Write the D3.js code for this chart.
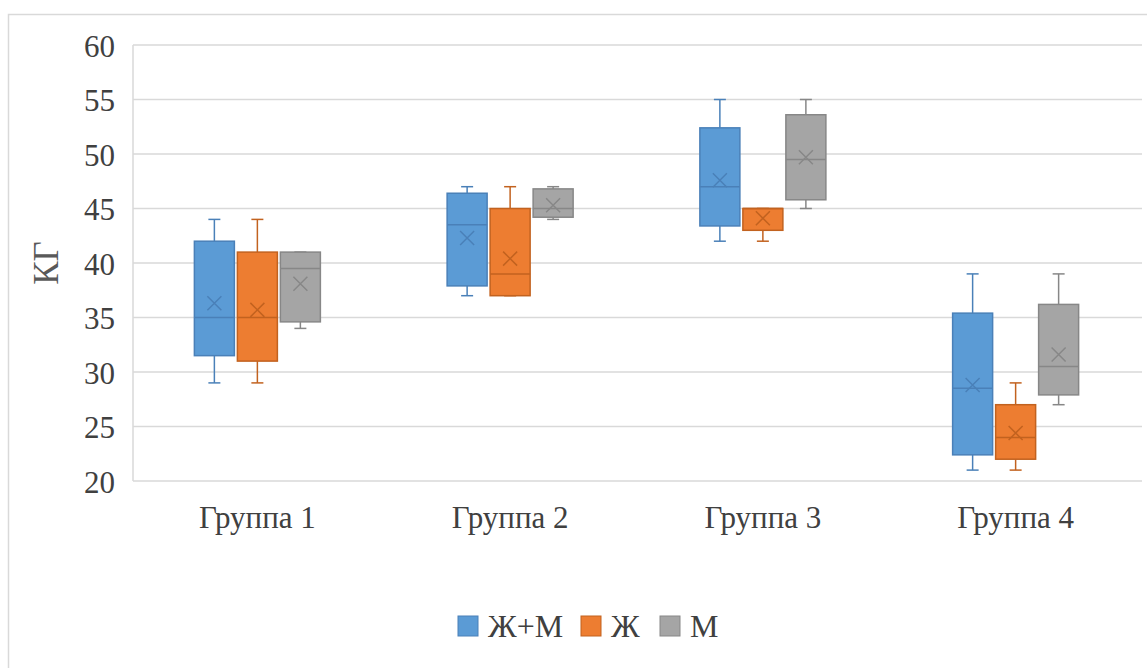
<!DOCTYPE html>
<html>
<head>
<meta charset="utf-8">
<script src="https://cdn.jsdelivr.net/npm/d3@7"></script>
</head>
<body style="margin:0">
<svg id="chart" width="1147" height="668"></svg>
<script>
// categories and series
var categories = ["Группа 1", "Группа 2", "Группа 3", "Группа 4"];
var seriesNames = ["Ж+М", "Ж", "М"];
var yTicks = [20, 25, 30, 35, 40, 45, 50, 55, 60];

// per group: [Ж+М, Ж, М]
var whiskerLow = [[29, 29, 34], [37, 37, 44], [42, 42, 45], [21, 21, 27]];
var quartile1 = [[31.5, 31, 34.6], [37.9, 37, 44.2], [43.4, 43, 45.8], [22.4, 22, 27.9]];
var medians = [[35, 35, 39.5], [43.5, 39, 45], [47, 45, 49.5], [28.5, 24, 30.5]];
var quartile3 = [[42, 41, 41], [46.4, 45, 46.8], [52.4, 45, 53.6], [35.4, 27, 36.2]];
var whiskerHigh = [[44, 44, 41], [47, 47, 47], [55, 45, 55], [39, 29, 39]];
var means = [[36.3, 35.7, 38.1], [42.3, 40.4, 45.3], [47.6, 44.1, 49.7], [28.8, 24.4, 31.6]];

var fills = ["#5B9BD5", "#ED7D31", "#A5A5A5"];
var strokes = ["#4A80B8", "#C2621F", "#878787"];
var serif = "Liberation Serif";

var svg = d3.select("#chart");

// outer frame
svg.append("rect")
  .attr("x", 8.5).attr("y", 14.5)
  .attr("width", 1160).attr("height", 700)
  .attr("fill", "#fff").attr("stroke", "#d9d9d9").attr("stroke-width", 1.5);

var plotLeft = 131, plotRight = 1142, plotTop = 45, plotBottom = 481;

var x = d3.scaleBand().domain(categories).range([plotLeft, plotRight]);
var xs = d3.scalePoint().domain(seriesNames).range([-43, 43]);
var y = d3.scaleLinear().domain([20, 60]).range([plotBottom, plotTop]);
var boxW = 40;

// grid
svg.append("g").selectAll("line").data(yTicks).enter().append("line")
  .attr("x1", plotLeft + 2).attr("x2", plotRight)
  .attr("y1", function (d) { return y(d); })
  .attr("y2", function (d) { return y(d); })
  .attr("stroke", "#d9d9d9").attr("stroke-width", 1.5);
svg.append("line")
  .attr("x1", plotLeft + 2).attr("x2", plotLeft + 2)
  .attr("y1", plotTop).attr("y2", plotBottom)
  .attr("stroke", "#d9d9d9").attr("stroke-width", 1.5);

// y axis
var gy = svg.append("g")
  .attr("transform", "translate(" + plotLeft + ",0)")
  .call(d3.axisLeft(y).tickValues(yTicks).tickSize(0).tickPadding(16));
gy.attr("font-family", serif).attr("font-size", 31);
gy.select(".domain").remove();
gy.selectAll("text").attr("dy", "0.36em").attr("fill", "#404040");

// x axis
var gx = svg.append("g")
  .attr("transform", "translate(0," + plotBottom + ")")
  .call(d3.axisBottom(x).tickSize(0).tickPadding(25));
gx.attr("font-family", serif).attr("font-size", 31);
gx.select(".domain").remove();
gx.selectAll("text").attr("fill", "#404040");

// y title
svg.append("text")
  .attr("transform", "translate(58,263) rotate(-90)")
  .attr("text-anchor", "middle")
  .attr("font-family", serif)
  .attr("font-size", 35).attr("fill", "#595959")
  .text("КГ");

// boxes
var items = [];
categories.forEach(function (c, i) {
  seriesNames.forEach(function (s, j) {
    items.push({ cat: c, ser: s, j: j, lo: whiskerLow[i][j], q1: quartile1[i][j],
      med: medians[i][j], q3: quartile3[i][j], hi: whiskerHigh[i][j], mean: means[i][j] });
  });
});

var g = svg.append("g").selectAll("g").data(items).enter().append("g")
  .attr("transform", function (d) { return "translate(" + (x(d.cat) + x.bandwidth() / 2 + xs(d.ser)) + ",0)"; });

g.append("line").attr("x1", 0).attr("x2", 0)
  .attr("y1", function (d) { return y(d.hi); }).attr("y2", function (d) { return y(d.q3); })
  .attr("stroke", function (d) { return strokes[d.j]; }).attr("stroke-width", 1.5);
g.append("line").attr("x1", 0).attr("x2", 0)
  .attr("y1", function (d) { return y(d.q1); }).attr("y2", function (d) { return y(d.lo); })
  .attr("stroke", function (d) { return strokes[d.j]; }).attr("stroke-width", 1.5);
g.append("line").attr("x1", -6).attr("x2", 6)
  .attr("y1", function (d) { return y(d.hi); }).attr("y2", function (d) { return y(d.hi); })
  .attr("stroke", function (d) { return strokes[d.j]; }).attr("stroke-width", 1.5);
g.append("line").attr("x1", -6).attr("x2", 6)
  .attr("y1", function (d) { return y(d.lo); }).attr("y2", function (d) { return y(d.lo); })
  .attr("stroke", function (d) { return strokes[d.j]; }).attr("stroke-width", 1.5);

g.append("rect")
  .attr("x", -boxW / 2).attr("width", boxW)
  .attr("y", function (d) { return y(d.q3); })
  .attr("height", function (d) { return y(d.q1) - y(d.q3); })
  .attr("fill", function (d) { return fills[d.j]; })
  .attr("stroke", function (d) { return strokes[d.j]; }).attr("stroke-width", 1.5);

g.append("line").attr("x1", -boxW / 2).attr("x2", boxW / 2)
  .attr("y1", function (d) { return y(d.med); }).attr("y2", function (d) { return y(d.med); })
  .attr("stroke", function (d) { return strokes[d.j]; }).attr("stroke-width", 1.5);

// mean marker
g.append("path")
  .attr("d", function (d) {
    var cy = y(d.mean), r = 7;
    return "M" + (-r) + "," + (cy - r) + "L" + r + "," + (cy + r) + "M" + r + "," + (cy - r) + "L" + (-r) + "," + (cy + r);
  })
  .attr("stroke", function (d) { return strokes[d.j]; }).attr("stroke-width", 1.5).attr("fill", "none");

// legend
var legendX = [458, 581, 660];
var lg = svg.append("g").selectAll("g").data(seriesNames).enter().append("g")
  .attr("transform", function (d, i) { return "translate(" + legendX[i] + ",616)"; });
lg.append("rect").attr("width", 20).attr("height", 20)
  .attr("fill", function (d, i) { return fills[i]; })
  .attr("stroke", function (d, i) { return strokes[i]; }).attr("stroke-width", 1);
lg.append("text").attr("x", 30).attr("y", 21)
  .attr("font-family", serif)
  .attr("font-size", 32).attr("fill", "#404040")
  .text(function (d) { return d; });
</script>
</body>
</html>
